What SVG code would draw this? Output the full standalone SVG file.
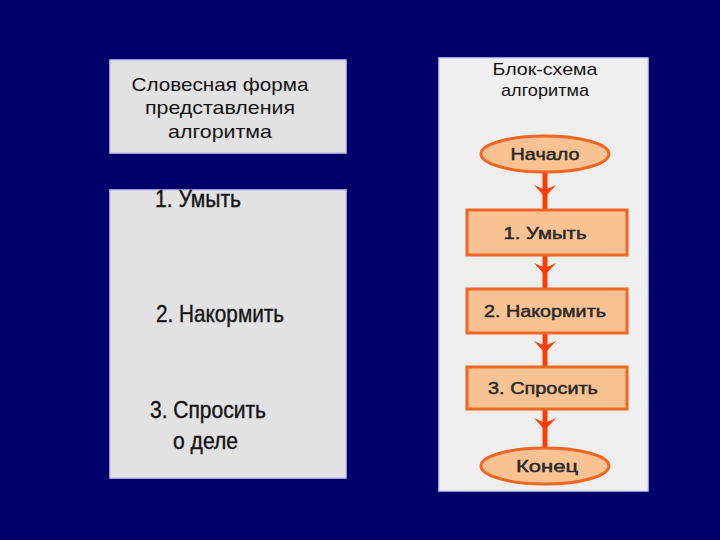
<svg xmlns="http://www.w3.org/2000/svg" width="720" height="540" viewBox="0 0 720 540">
<defs>
<style>
.panel{fill:#e2e2e2;stroke:#c8c8f0;stroke-width:1.5}
.t{font-family:"Liberation Sans",Arial,sans-serif;fill:#141414}
.big{font-size:24px;stroke:#141414;stroke-width:0.4}
.hdr{font-size:19px;text-anchor:middle}
.flow{fill:#f9c293;stroke:#f26522;stroke-width:3}
.ft{font-family:"Liberation Sans",Arial,sans-serif;font-size:17px;fill:#2a2a2a;stroke:#2a2a2a;stroke-width:0.5;text-anchor:middle}
.conn{stroke:#ff3c00;stroke-width:5;fill:none}
.head{fill:#ff3c00}
</style>
</defs>
<rect width="720" height="540" fill="#00006a"/>
<g id="word-title">
<rect class="panel" x="110" y="60" width="236" height="93"/>
<text class="t hdr" x="220" y="91" textLength="177" lengthAdjust="spacingAndGlyphs">Словесная форма</text>
<text class="t hdr" x="220" y="114" textLength="150" lengthAdjust="spacingAndGlyphs">представления</text>
<text class="t hdr" x="220" y="138" textLength="104" lengthAdjust="spacingAndGlyphs">алгоритма</text>
</g>
<g id="word-steps">
<rect class="panel" x="110" y="190" width="236" height="288"/>
<text class="t big" x="155" y="207" textLength="86" lengthAdjust="spacingAndGlyphs">1. Умыть</text>
<text class="t big" x="156" y="322" textLength="128" lengthAdjust="spacingAndGlyphs">2. Накормить</text>
<text class="t big" x="150" y="418" textLength="116" lengthAdjust="spacingAndGlyphs">3. Спросить</text>
<text class="t big" x="173" y="449" textLength="65" lengthAdjust="spacingAndGlyphs">о деле</text>
</g>
<g id="flow-panel">
<rect x="439" y="58" width="209" height="433" fill="#efefef" stroke="#d0d0f4" stroke-width="1.5"/>
<text class="t" x="545" y="75" font-size="17" text-anchor="middle" textLength="105" lengthAdjust="spacingAndGlyphs">Блок-схема</text>
<text class="t" x="545" y="96" font-size="17" text-anchor="middle" textLength="88" lengthAdjust="spacingAndGlyphs">алгоритма</text>
</g>
<g id="connectors">
<line class="conn" x1="545" y1="172" x2="545" y2="210"/>
<path class="head" d="M534,185 L545,190 L556,185 L545,197 Z"/>
<line class="conn" x1="545" y1="255" x2="545" y2="289"/>
<path class="head" d="M534,263 L545,268 L556,263 L545,275 Z"/>
<line class="conn" x1="545" y1="333" x2="545" y2="367"/>
<path class="head" d="M534,341 L545,346 L556,341 L545,353 Z"/>
<line class="conn" x1="545" y1="409" x2="545" y2="448"/>
<path class="head" d="M534,418 L545,423 L556,418 L545,430 Z"/>
</g>
<g id="start">
<ellipse class="flow" cx="545" cy="154" rx="64" ry="18"/>
<text class="ft" x="545" y="160" textLength="69" lengthAdjust="spacingAndGlyphs">Начало</text>
</g>
<g id="step1">
<rect class="flow" x="467" y="210" width="160" height="45"/>
<text class="ft" x="545" y="239" textLength="83" lengthAdjust="spacingAndGlyphs">1. Умыть</text>
</g>
<g id="step2">
<rect class="flow" x="467" y="289" width="160" height="44"/>
<text class="ft" x="545" y="317" textLength="122" lengthAdjust="spacingAndGlyphs">2. Накормить</text>
</g>
<g id="step3">
<rect class="flow" x="467" y="367" width="160" height="42"/>
<text class="ft" x="543" y="394" textLength="110" lengthAdjust="spacingAndGlyphs">3. Спросить</text>
</g>
<g id="end">
<ellipse class="flow" cx="545" cy="466" rx="64" ry="18"/>
<text class="ft" x="547" y="472" textLength="62" lengthAdjust="spacingAndGlyphs">Конец</text>
</g>
</svg>
